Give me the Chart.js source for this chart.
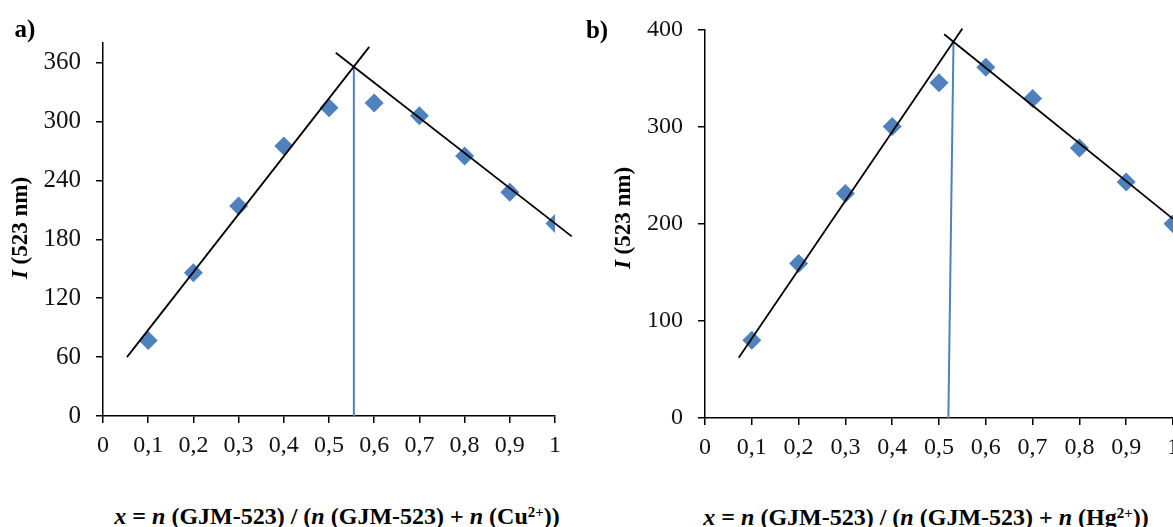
<!DOCTYPE html>
<html>
<head>
<meta charset="utf-8">
<script src="https://cdn.jsdelivr.net/npm/chart.js@4.4.1/dist/chart.umd.min.js"></script>
<style>
  html, body { margin: 0; padding: 0; width: 1173px; height: 527px; overflow: hidden; background: #fff; }
  body { position: relative; font-family: "Liberation Serif", "Times New Roman", serif; color: #000; }
  .panel { position: absolute; top: 0; height: 470px; }
  #panelA { left: 0; width: 580px; }
  #panelB { left: 580px; width: 618px; }
  .tag { position: absolute; font-weight: bold; font-size: 25px; transform: translate(-50%, -50%); }
  .xtitle, .ytitle { position: absolute; font-weight: bold; font-size: 24px; white-space: nowrap; }
  .xtitle { transform: translate(-50%, -50%); }
  .ytitle { transform: translate(-50%, -50%) rotate(-90deg); font-size: 23px; }
  sup { font-size: 62%; line-height: 0; vertical-align: 0.45em; }
</style>
</head>
<body>
<div class="panel" id="panelA"><canvas id="chartA"></canvas></div>
<div class="panel" id="panelB"><canvas id="chartB"></canvas></div>

<div class="tag" style="left:25px; top:29px;">a)</div>
<div class="tag" style="left:597px; top:30px;">b)</div>

<div class="ytitle" style="left:20px; top:228px;"><i>I</i> (523 nm)</div>
<div class="ytitle" style="left:623px; top:218px;"><i>I</i> (523 nm)</div>

<div class="xtitle" style="left:337px; top:516px;"><i>x</i> = <i>n</i> (GJM-523) / (<i>n</i> (GJM-523) + <i>n</i> (Cu<sup>2+</sup>))</div>
<div class="xtitle" style="left:926px; top:517px;"><i>x</i> = <i>n</i> (GJM-523) / (<i>n</i> (GJM-523) + <i>n</i> (Hg<sup>2+</sup>))</div>

<script>
// mole fraction x and measured intensity at 523 nm
const xValues = [0.1, 0.2, 0.3, 0.4, 0.5, 0.6, 0.7, 0.8, 0.9, 1.0];
const cuIntensity = [77, 146, 214, 275, 314, 319, 306, 265, 228, 196];
const hgIntensity = [80, 159, 231, 300, 345, 361, 329, 278, 243, 200];

const xTicks = [0, 0.1, 0.2, 0.3, 0.4, 0.5, 0.6, 0.7, 0.8, 0.9, 1];
const xTickLabels = ['0', '0,1', '0,2', '0,3', '0,4', '0,5', '0,6', '0,7', '0,8', '0,9', '1'];
const cuYTicks = [0, 60, 120, 180, 240, 300, 360];
const hgYTicks = [0, 100, 200, 300, 400];

// hand drawn fit lines (Job plot) and the crossing marker
const cuRiseX = [0.053, 0.589], cuRiseY = [60, 376];
const cuFallX = [0.515, 1.037], cuFallY = [370, 183];
const cuMarkX = [0.555, 0.555], cuMarkY = [0, 356];
const hgRiseX = [0.072, 0.55], hgRiseY = [62, 401];
const hgFallX = [0.511, 1.0], hgFallY = [395, 205];
const hgMarkX = [0.531, 0.52], hgMarkY = [388, 0];

const BLUE = '#4F81BD';
const FONT = '"Liberation Serif", "Times New Roman", serif';

function pts(xs, ys) {
  return xs.map((x, i) => ({ x, y: ys[i] }));
}

function lineSet(xs, ys, color, width) {
  return {
    data: pts(xs, ys),
    showLine: true,
    pointRadius: 0,
    borderColor: color,
    borderWidth: width,
    clip: false
  };
}

function makeChart(id, o) {
  return new Chart(document.getElementById(id), {
    type: 'scatter',
    data: {
      datasets: [
        lineSet(o.riseX, o.riseY, '#000', 1.8),
        lineSet(o.fallX, o.fallY, '#000', 1.8),
        lineSet(o.markX, o.markY, BLUE, 2),
        {
          data: pts(xValues, o.signal),
          pointStyle: 'rectRot',
          pointRadius: 9.5,
          backgroundColor: BLUE,
          borderWidth: 0,
          showLine: false
        }
      ]
    },
    options: {
      responsive: true,
      maintainAspectRatio: false,
      animation: false,
      layout: { padding: { top: o.top, right: 25, left: 0, bottom: 0 } },
      plugins: { legend: { display: false }, tooltip: { enabled: false } },
      scales: {
        x: {
          type: 'linear',
          min: 0,
          max: 1,
          afterBuildTicks: s => { s.ticks = xTicks.map(v => ({ value: v })); },
          afterFit: s => { s.height = o.xHeight; },
          ticks: {
            autoSkip: false,
            maxRotation: 0,
            padding: 8,
            color: '#111',
            font: { family: FONT, size: 24 },
            callback: (v, i) => xTickLabels[i]
          },
          grid: { drawOnChartArea: false, drawTicks: true, tickLength: 7, color: '#000', lineWidth: 1.5 },
          border: { display: true, color: '#000', width: 1.5 }
        },
        y: {
          type: 'linear',
          min: 0,
          max: o.yMax,
          afterBuildTicks: s => { s.ticks = o.yTicks.map(v => ({ value: v })); },
          afterFit: s => { s.width = o.yWidth; },
          ticks: {
            padding: o.yPad,
            color: '#111',
            font: { family: FONT, size: o.yFont },
            callback: v => String(v)
          },
          grid: { drawOnChartArea: false, drawTicks: true, tickLength: 7, color: '#000', lineWidth: 1.5 },
          border: { display: true, color: '#000', width: 1.5 }
        }
      }
    }
  });
}

makeChart('chartA', {
  signal: cuIntensity, riseX: cuRiseX, riseY: cuRiseY, fallX: cuFallX, fallY: cuFallY,
  markX: cuMarkX, markY: cuMarkY, yTicks: cuYTicks, yMax: 380,
  top: 43, xHeight: 54, yWidth: 103, yPad: 15, yFont: 25
});

makeChart('chartB', {
  signal: hgIntensity, riseX: hgRiseX, riseY: hgRiseY, fallX: hgFallX, fallY: hgFallY,
  markX: hgMarkX, markY: hgMarkY, yTicks: hgYTicks, yMax: 400,
  top: 27, xHeight: 52, yWidth: 125, yPad: 15, yFont: 24
});
</script>
</body>
</html>
